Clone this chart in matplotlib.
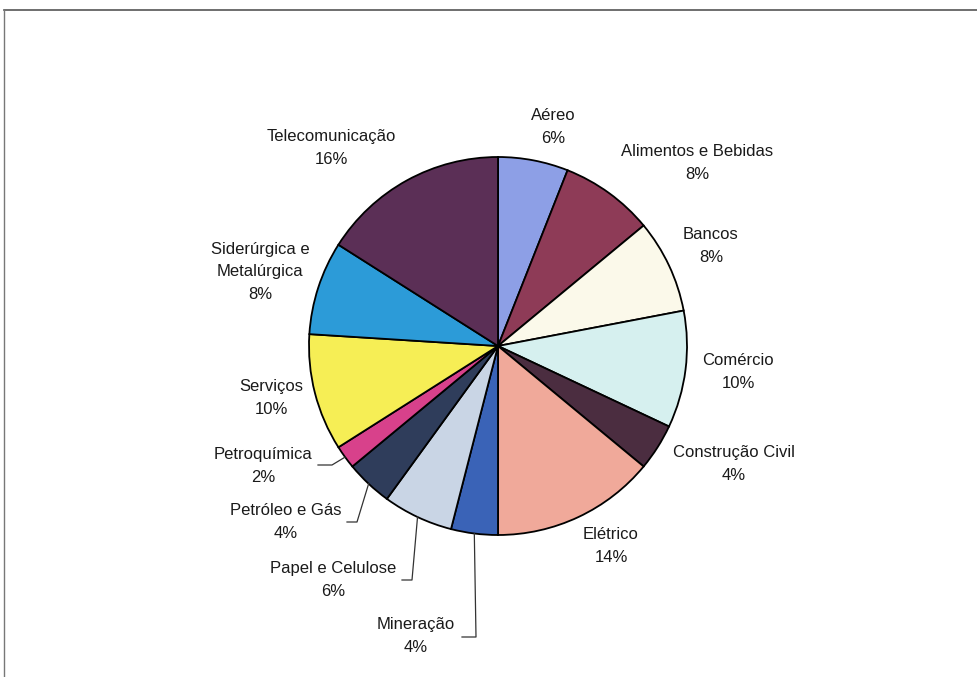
import matplotlib.pyplot as plt
import numpy as np

plt.rcParams['font.family'] = ['Liberation Sans', 'DejaVu Sans']

W, H = 978, 677

sectors = ['Aéreo', 'Alimentos e Bebidas', 'Bancos', 'Comércio', 'Construção Civil',
           'Elétrico', 'Mineração', 'Papel e Celulose', 'Petróleo e Gás', 'Petroquímica',
           'Serviços', 'Siderúrgica e\nMetalúrgica', 'Telecomunicação']
shares = [6, 8, 8, 10, 4, 14, 4, 6, 4, 2, 10, 8, 16]

colors = ['#8d9fe6', '#8e3b57', '#fbf9ea', '#d6f0ef', '#4b2d40', '#f0a99a', '#3a63b7',
          '#c9d5e5', '#2f3d5b', '#d8418b', '#f6ee55', '#2c9bd8', '#5b2f56']

# label centres in picture coordinates (x, y from top)
label_pos = [(553, 127), (697, 163), (711, 246), (738, 372), (734, 464), (611, 546),
             (416, 636), (333, 580), (286, 522), (263, 466), (271, 398), (260, 272),
             (331, 148)]
# leader lines: (elbow x, elbow y, end x)
leaders = {6: (476, 637, 462), 7: (412, 580, 402), 8: (357, 522, 347), 9: (332, 465, 318)}

cx, cy, r = 498, 346, 189

fig = plt.figure(figsize=(W / 100, H / 100), dpi=100)
ax = fig.add_axes([0, 0, 1, 1])

ax.pie(shares, colors=colors, startangle=90, counterclock=False,
       center=(cx, H - cy), radius=r, frame=True,
       wedgeprops=dict(edgecolor='black', linewidth=1.3))
ax.set_xlim(0, W)
ax.set_ylim(0, H)
ax.set_aspect('equal')
ax.axis('off')

total = sum(shares)
cum = np.cumsum([0] + shares)
for i, (name, val) in enumerate(zip(sectors, shares)):
    x, y = label_pos[i]
    ax.text(x, H - y, f'{name}\n{round(100 * val / total)}%', ha='center', va='center',
            fontsize=12, linespacing=1.65, color='#1a1a1a')
    if i in leaders:
        mid = np.deg2rad(90 - (cum[i] + val / 2) / total * 360)
        px, py = cx + r * np.cos(mid), cy - r * np.sin(mid)
        ex, ey, hx = leaders[i]
        ax.plot([px, ex, hx], [H - py, H - ey, H - ey], color='#333333', lw=0.9)

# page frame: top and left edges only
ax.plot([4, W], [H - 10, H - 10], color='#555555', lw=1.2)
ax.plot([4, 4], [H - 10, 0], color='#777777', lw=1.0)

fig.savefig('out.png', dpi=100)
